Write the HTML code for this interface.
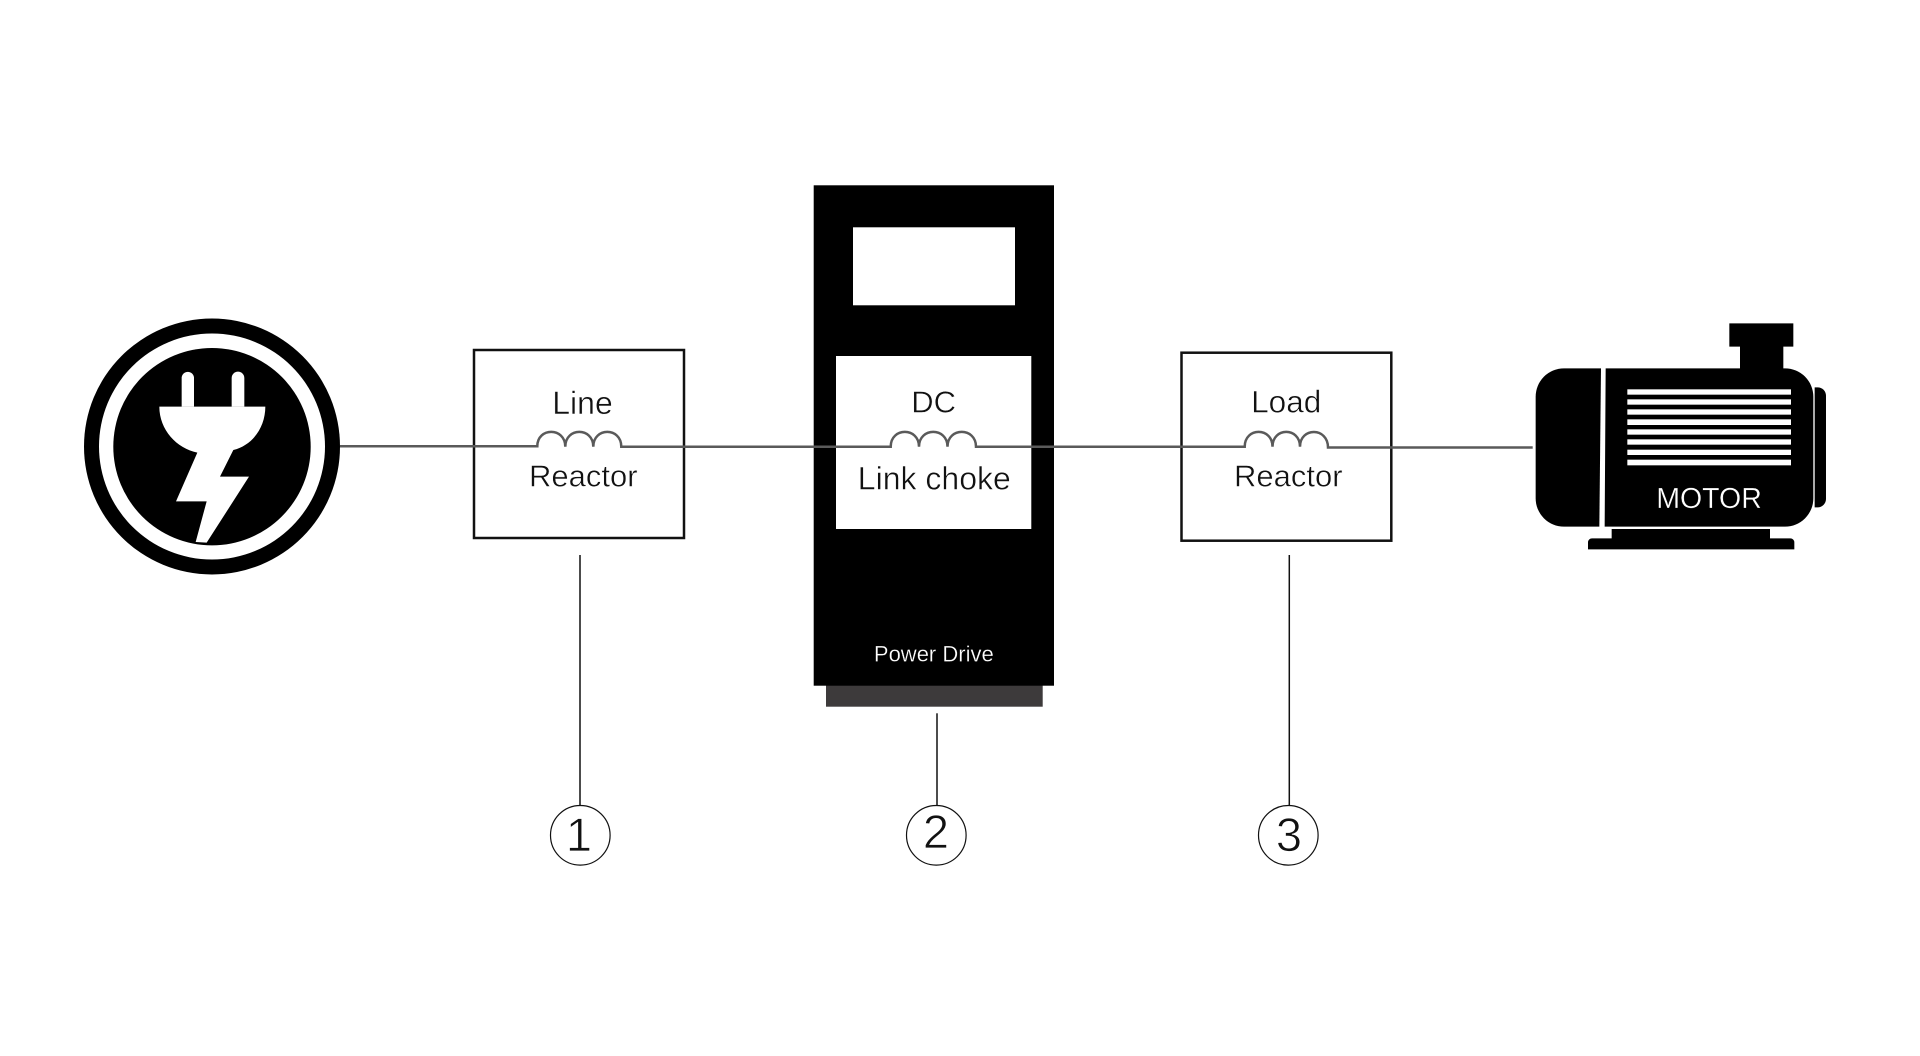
<!DOCTYPE html>
<html><head><meta charset="utf-8"><style>
html,body{margin:0;padding:0;background:#fff}
svg{display:block}
text{font-family:"Liberation Sans",sans-serif}
</style></head><body>
<svg width="1920" height="1056" viewBox="0 0 1920 1056" xmlns="http://www.w3.org/2000/svg">
<rect width="1920" height="1056" fill="#fff"/>
<!-- power icon -->
<circle cx="212" cy="446.5" r="128" fill="#000"/>
<circle cx="212" cy="446.5" r="113" fill="#fff"/>
<circle cx="212" cy="446.7" r="98.7" fill="#000"/>
<g transform="translate(60,300) scale(0.33333)" fill="#fff">
<path d="M365 320V234a18.500 18.500 0 0 1 37 0V320ZM515 320V234a19 19 0 0 1 38 0V320Z"/>
<path d="M298 320H616C616 380 580 435 520 450L480 530H567L440 728L407 726L440 604H348L412 458C350 445 298 390 298 320Z"/>
</g>
<!-- drive -->
<rect x="826" y="685" width="216.700" height="21.700" fill="#3d3a3b"/>
<rect x="813.700" y="185.300" width="240.300" height="500.400" fill="#000"/>
<rect x="853" y="227.300" width="162" height="78" fill="#fff"/>
<rect x="836" y="356" width="195.300" height="173" fill="#fff"/>
<text x="933.800" y="661.700" font-size="22" fill="#fff" stroke="#000" stroke-width="0.250" text-anchor="middle">Power Drive</text>
<!-- boxes -->
<rect x="474" y="350" width="210" height="188" fill="#fff" stroke="#111" stroke-width="2.500"/>
<rect x="1181.500" y="352.700" width="209.800" height="188" fill="#fff" stroke="#111" stroke-width="2.500"/>
<!-- wire & coils -->
<g fill="none" stroke="#5a5a5a" stroke-width="2.500">
<path d="M340 446.300H537.300C537.300 427 565.300 427 565.300 446.700C565.300 427 593.300 427 593.300 446.700C593.300 427 621.300 427 621.300 446.700H890.700C890.700 427 919 427 919 446.700C919 427 947.500 427 947.500 446.700C947.500 427 976 427 976 446.700H1244.700C1244.700 427 1272.500 427 1272.500 446.700C1272.500 427 1300 427 1300 446.700C1300 427 1328 427 1328 447.500H1532.700"/>
</g>
<!-- labels -->
<g fill="#111" stroke="#fff" stroke-width="0.450" font-size="31" text-anchor="middle">
<text x="582.500" y="414" font-size="32">Line</text>
<text x="583.300" y="486.700">Reactor</text>
<text x="933.700" y="412.700">DC</text>
<text x="934.300" y="489.300" font-size="32">Link choke</text>
<text x="1286.200" y="412.700" font-size="31.500">Load</text>
<text x="1288.300" y="486.700">Reactor</text>
</g>
<!-- leaders -->
<g stroke="#111" stroke-width="1.500" fill="#fff">
<line x1="580" y1="555" x2="580" y2="805.300"/>
<line x1="937" y1="713.300" x2="937" y2="805.300"/>
<line x1="1289.300" y1="555" x2="1289.300" y2="805.300"/>
<circle cx="580.300" cy="835.300" r="29.800" stroke-width="1.200"/>
<circle cx="936.300" cy="835.300" r="29.800" stroke-width="1.200"/>
<circle cx="1288.300" cy="835.300" r="29.800" stroke-width="1.200"/>
</g>
<g fill="#111" stroke="#fff" stroke-width="0.800" font-size="47" text-anchor="middle">
<text x="579" y="851">1</text>
<text x="936" y="848">2</text>
<text x="1289" y="851">3</text>
</g>
<!-- motor -->
<g transform="translate(1520,310) scale(0.33333)" fill="#000">
<path d="M132 175H243L238 650H132A85 85 0 0 1 47 565V260A85 85 0 0 1 132 175Z"/>
<path d="M257 175H660V110H628V40H820V110H790V175H795A85 85 0 0 1 880 260V565A85 85 0 0 1 795 650H254Z"/>
<path d="M884 232H893A25 25 0 0 1 918 257V567A25 25 0 0 1 893 592H884Z"/>
<path d="M275 657H750V685H811A12 12 0 0 1 823 697V718H204V697A12 12 0 0 1 216 685H275Z"/>
<g fill="#fff">
<rect x="322" y="238" width="491" height="16"/>
<rect x="322" y="268" width="491" height="16"/>
<rect x="322" y="298" width="491" height="16"/>
<rect x="322" y="328" width="491" height="17"/>
<rect x="322" y="358" width="491" height="16"/>
<rect x="322" y="388" width="491" height="16"/>
<rect x="322" y="419" width="491" height="16"/>
<rect x="322" y="449" width="491" height="17"/>
</g>
</g>
<text x="1709" y="507.800" font-size="28.500" fill="#fff" stroke="#000" stroke-width="0.300" text-anchor="middle">MOTOR</text>
</svg>
</body></html>
